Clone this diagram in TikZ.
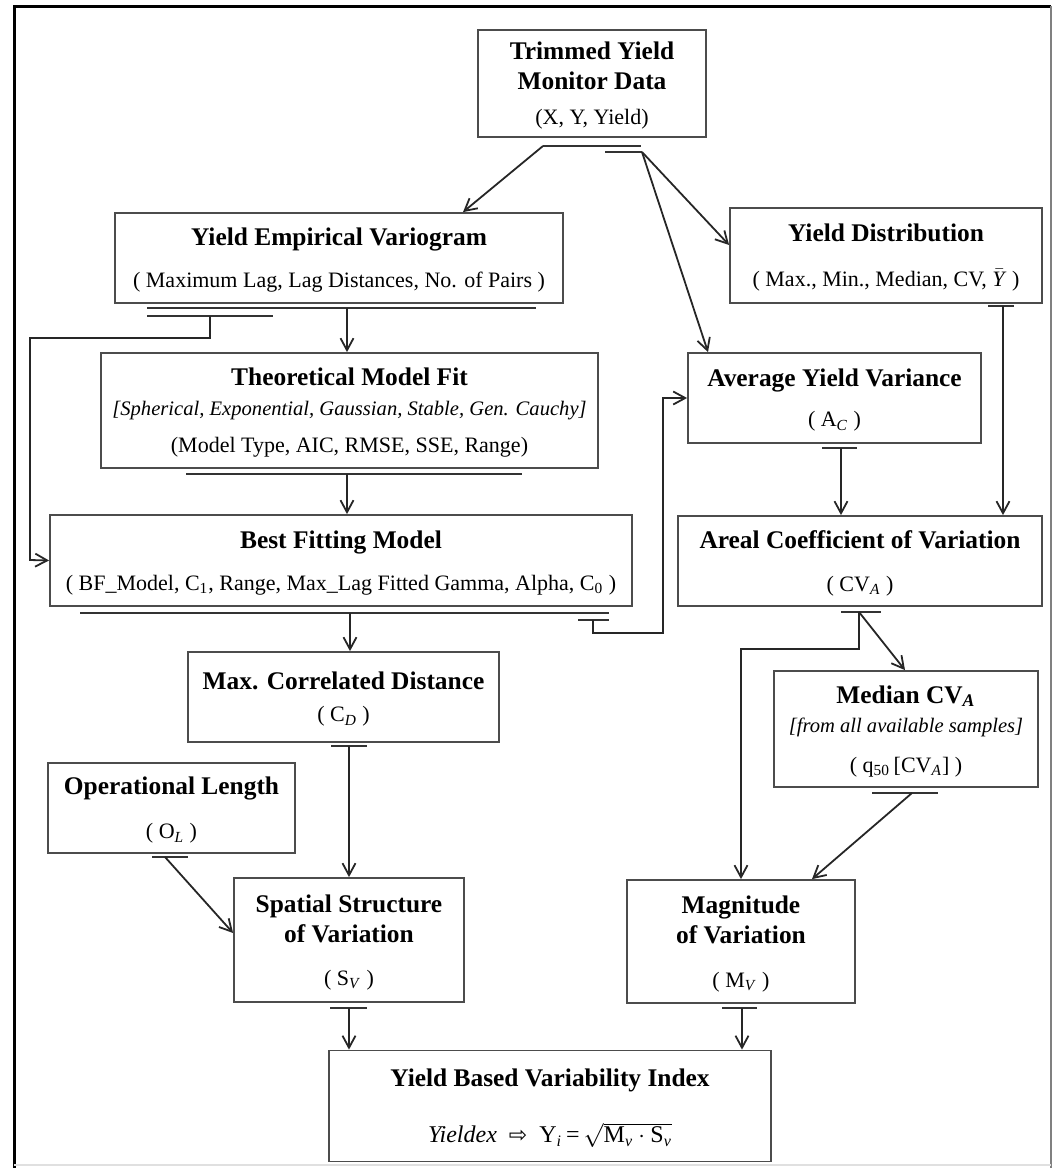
\documentclass[tikz,border=0pt]{standalone}
\usepackage{fontspec}
\setmainfont{Liberation Serif}
\newfontfamily\dejavu{DejaVu Sans}
\usetikzlibrary{arrows.meta}

\newcommand{\ttl}{\fontsize{12.7}{15}\selectfont\bfseries}
\newcommand{\prm}{\fontsize{11}{13}\selectfont\mdseries}
\newcommand{\itl}{\fontsize{10.3}{12}\selectfont\mdseries\itshape}
\newcommand{\fml}{\fontsize{12}{14}\selectfont\mdseries}

\tikzset{
  blk/.style={draw=black!70, line width=0.9pt, align=center, inner sep=0pt, font=\ttl,
    text depth=-2.5pt},
  arr/.style={draw=black!85, line width=0.9pt, -{Straight Barb[length=6pt,width=6.5pt]}},
  bar/.style={draw=black!80, line width=1.4pt}
}

\begin{document}
\begin{tikzpicture}[x=0.5pt,y=-0.5pt]
\useasboundingbox (0,0) rectangle (1052,1168);
% frame
\draw[line width=1.5pt] (14,1168) -- (14,6) -- (1051,6);
\draw[black!50, line width=0.6pt] (1051,6) -- (1051,1168);
\draw[black!12, line width=0.6pt] (14,1165) -- (1051,1165);

% boxes
\node[blk, minimum width=114pt, minimum height=53.5pt] (tymd) at (592,83.5) {Trimmed Yield\\Monitor Data\\[2.5pt]\prm (X, Y, Yield)};
\node[blk, minimum width=224pt, minimum height=45pt] (yev) at (339,258) {Yield Empirical Variogram\\[6pt]\prm ( Maximum Lag, Lag Distances, No. of Pairs )};
\node[blk, minimum width=156pt, minimum height=47.5pt] (yd) at (886,255.5) {Yield Distribution\\[7.5pt]\prm ( Max., Min., Median, CV, $\bar{\mbox{\textit{Y}}}$ )};
\node[blk, minimum width=248.5pt, minimum height=57.5pt] (tmf) at (349.5,410.5) {Theoretical Model Fit\\\itl [Spherical, Exponential, Gaussian, Stable, Gen. Cauchy]\\[3.5pt]\prm (Model Type, AIC, RMSE, SSE, Range)};
\node[blk, minimum width=146.5pt, minimum height=45pt] (ayv) at (834.5,398) {Average Yield Variance\\[5pt]\prm ( A\textsubscript{\textit{C}} )};
\node[blk, minimum width=291pt, minimum height=45.5pt] (bfm) at (341,560.5) {Best Fitting Model\\[6pt]\prm ( BF\_Model, C\textsubscript{1}, Range, Max\_Lag Fitted Gamma, Alpha, C\textsubscript{0} )};
\node[blk, minimum width=182pt, minimum height=45pt] (acv) at (860,561) {Areal Coefficient of Variation\\[6.5pt]\prm ( CV\textsubscript{\textit{A}} )};
\node[blk, minimum width=155.5pt, minimum height=45pt] (mcd) at (343.5,697) {Max. Correlated Distance\\[1pt]\prm ( C\textsubscript{\textit{D}} )};
\node[blk, minimum width=132pt, minimum height=58pt] (medcv) at (906,729) {Median CV\textsubscript{\textit{A}}\\[-0.5pt]\itl [from all available samples]\\[5pt]\prm ( q\textsubscript{50}\,[CV\textsubscript{\textit{A}}] )};
\node[blk, minimum width=123.5pt, minimum height=45pt] (ol) at (171.5,808) {Operational Length\\[7pt]\prm ( O\textsubscript{\textit{L}} )};
\node[blk, minimum width=115pt, minimum height=62pt] (ssv) at (349,940) {Spatial Structure\\of Variation\\[6.5pt]\prm ( S\textsubscript{\textit{V}} )};
\node[blk, minimum width=114pt, minimum height=61.5pt] (mov) at (741,941.5) {Magnitude\\of Variation\\[7pt]\prm ( M\textsubscript{\textit{V}} )};
\node[blk, minimum width=221pt, minimum height=55.5pt] (ybvi) at (550,1106) {Yield Based Variability Index\\[13pt]\fml \textit{Yieldex}\enspace{\dejavu\fontsize{11}{12}\selectfont ⇨}\enspace Y\textsubscript{\textit{i}}\,=\,$\sqrt{\mbox{M\textsubscript{\textit{v}}}\cdot\mbox{S\textsubscript{\textit{v}}}}$};

% bars under boxes
\draw[bar] (543,146) -- (641,146);
\draw[bar] (605,152) -- (642,152);
\draw[bar] (147,308) -- (536,308);
\draw[bar] (147,316) -- (273,316);
\draw[bar] (186,474) -- (522,474);
\draw[bar] (80,613) -- (609,613);
\draw[bar] (578,620) -- (609,620);
\draw[bar] (331,746) -- (367,746);
\draw[bar] (152,857) -- (188,857);
\draw[bar] (330,1008) -- (367,1008);
\draw[bar] (988,306) -- (1014,306);
\draw[bar] (822,448) -- (857,448);
\draw[bar] (841,612) -- (881,612);
\draw[bar] (872,793) -- (938,793);
\draw[bar] (722,1008) -- (757,1008);

% connectors
\coordinate (tymdA) at (543,146);
\coordinate (tymdB) at (642,152);
\coordinate (yevA) at (347,308);
\coordinate (yevB) at (210,316);
\coordinate (tmfA) at (347,474);
\coordinate (bfmA) at (350,613);
\coordinate (bfmB) at (593,620);
\coordinate (mcdA) at (349,746);
\coordinate (olA) at (165,857);
\coordinate (ssvA) at (349,1008);
\coordinate (ydA) at (1003,306);
\coordinate (ayvA) at (841,448);
\coordinate (acvA) at (859,612);
\coordinate (medcvA) at (912,793);
\coordinate (movA) at (742,1008);

\draw[arr] (tymdA) -- (463,0 |- yev.north);
\draw[arr] (tymdB) -- (yd.west |- 0,245);
\draw[arr] (tymdB) -- (708,0 |- ayv.north);
\draw[arr] (yevA) -- (yevA |- tmf.north);
\draw[arr] (yevB) -- (210,338) -| (30,560) -- (bfm.west);
\draw[arr] (tmfA) -- (tmfA |- bfm.north);
\draw[arr] (bfmA) -- (bfmA |- mcd.north);
\draw[arr] (bfmB) -- (593,633) -| (663,398) -- (ayv.west);
\draw[arr] (mcdA) -- (mcdA |- ssv.north);
\draw[arr] (olA) -- (ssv.west |- 0,933);
\draw[arr] (ssvA) -- (ssvA |- ybvi.north);
\draw[arr] (ydA) -- (ydA |- acv.north);
\draw[arr] (ayvA) -- (ayvA |- acv.north);
\draw[arr] (acvA) -- (859,649) -| (mov.north);
\draw[arr] (acvA) -- (905,0 |- medcv.north);
\draw[arr] (medcvA) -- (812,0 |- mov.north);
\draw[arr] (movA) -- (movA |- ybvi.north);
\end{tikzpicture}
\end{document}
